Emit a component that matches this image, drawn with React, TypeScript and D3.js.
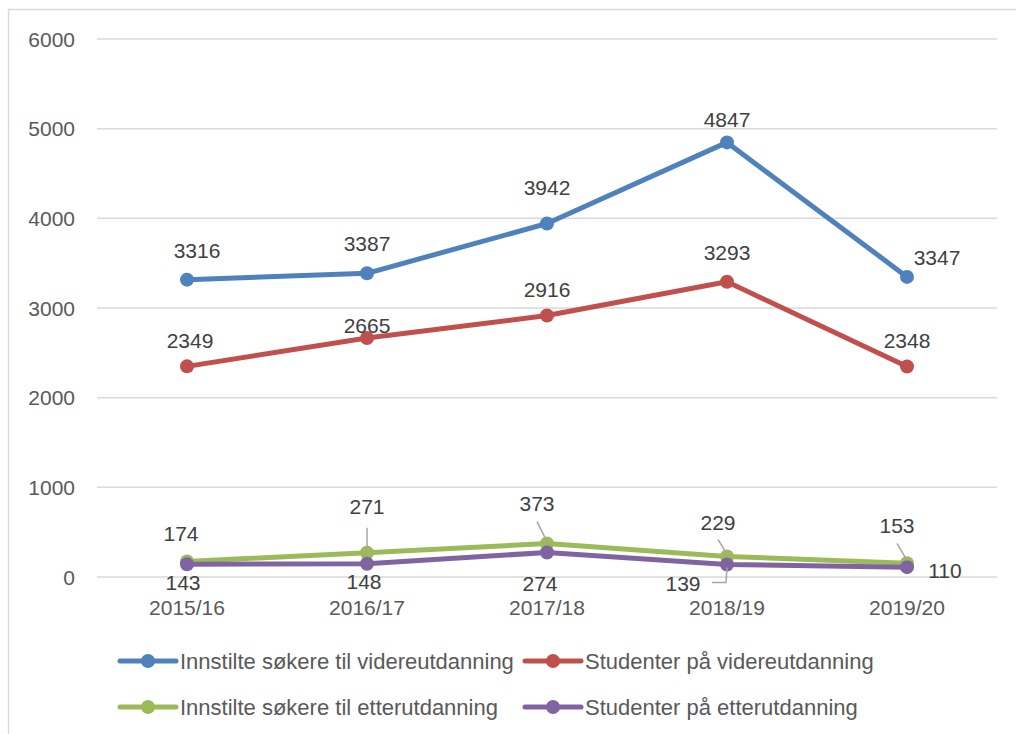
import React, { useEffect, useRef } from 'react';
import * as d3 from 'd3';

const categories = ['2015/16', '2016/17', '2017/18', '2018/19', '2019/20'];
const seriesNames = [
  'Innstilte søkere til videreutdanning',
  'Studenter på videreutdanning',
  'Innstilte søkere til etterutdanning',
  'Studenter på etterutdanning',
];
const innstilteVidere = [3316, 3387, 3942, 4847, 3347];
const studenterVidere = [2349, 2665, 2916, 3293, 2348];
const innstilteEtter = [174, 271, 373, 229, 153];
const studenterEtter = [143, 148, 274, 139, 110];
const yTicks = [0, 1000, 2000, 3000, 4000, 5000, 6000];

const colors = ['#4f81bd', '#c0504d', '#9bbb59', '#8064a2'];

// label placement relative to the point (dx, dy of label centre), plus optional leader line
const labelOffsets = [
  [[10, -29], [0, -30], [0, -36], [0, -23], [30, -19]],
  [[3, -26], [0, -13], [0, -26], [0, -29], [0, -26]],
  [[-6, -28], [0, -46], [-10, -40], [-9, -34], [-10, -38]],
  [[-4, 18], [-3, 18], [-7, 31], [-44, 19], [38, 3]],
];
const leaders = {
  '2-1': [[0, -25], [0, -4]],
  '2-2': [[-10, -22], [0, -2]],
  '2-3': [[-9, -17], [0, -2]],
  '2-4': [[-10, -20], [0, -3]],
  '3-3': [[-15, 18], [-1, 18], [0, 3]],
};

export default function App() {
  const ref = useRef(null);

  useEffect(() => {
    const width = 1016;
    const height = 734;
    const font = '"Liberation Sans", Arial, sans-serif';
    const grey = '#595959';

    const svg = d3.select(ref.current);
    svg.selectAll('*').remove();
    svg.attr('width', width).attr('height', height);

    svg.append('rect')
      .attr('x', 0).attr('y', 0).attr('width', width).attr('height', height)
      .attr('fill', 'white');

    // chart frame
    svg.append('rect')
      .attr('x', 8.5).attr('y', 9.5).attr('width', width + 10).attr('height', height + 10)
      .attr('fill', 'none').attr('stroke', '#d9d9d9').attr('stroke-width', 1.5);

    const x = d3.scaleBand().domain(categories).range([97, 997]);
    const y = d3.scaleLinear().domain([0, 6000]).range([577, 39]);
    const cx = (c) => x(c) + x.bandwidth() / 2;

    // gridlines
    svg.append('g')
      .selectAll('line')
      .data(yTicks)
      .enter()
      .append('line')
      .attr('x1', 97).attr('x2', 997)
      .attr('y1', d => y(d)).attr('y2', d => y(d))
      .attr('stroke', '#d9d9d9').attr('stroke-width', 1.5);

    // y labels
    svg.append('g')
      .selectAll('text')
      .data(yTicks)
      .enter()
      .append('text')
      .attr('x', 75).attr('y', d => y(d) + 7.5)
      .attr('text-anchor', 'end')
      .attr('font-family', font).attr('font-size', 21).attr('fill', grey)
      .text(d => d);

    // x labels
    svg.append('g')
      .selectAll('text')
      .data(categories)
      .enter()
      .append('text')
      .attr('x', d => cx(d)).attr('y', 615)
      .attr('text-anchor', 'middle')
      .attr('font-family', font).attr('font-size', 21).attr('fill', grey)
      .text(d => d);

    const allSeries = [innstilteVidere, studenterVidere, innstilteEtter, studenterEtter];
    const line = d3.line().x(d => d[0]).y(d => d[1]);

    allSeries.forEach((vals, si) => {
      const pts = vals.map((v, i) => [cx(categories[i]), y(v)]);
      svg.append('path')
        .attr('d', line(pts))
        .attr('fill', 'none')
        .attr('stroke', colors[si])
        .attr('stroke-width', 5)
        .attr('stroke-linejoin', 'round')
        .attr('stroke-linecap', 'round');
      svg.append('g')
        .selectAll('circle')
        .data(pts)
        .enter()
        .append('circle')
        .attr('cx', d => d[0]).attr('cy', d => d[1])
        .attr('r', 7)
        .attr('fill', colors[si]);
    });

    // leader lines and data labels
    allSeries.forEach((vals, si) => {
      vals.forEach((v, i) => {
        const px = cx(categories[i]);
        const py = y(v);
        const lead = leaders[`${si}-${i}`];
        if (lead) {
          svg.append('polyline')
            .attr('points', lead.map(p => `${px + p[0]},${py + p[1]}`).join(' '))
            .attr('fill', 'none')
            .attr('stroke', '#a6a6a6')
            .attr('stroke-width', 1.5);
        }
        const [dx, dy] = labelOffsets[si][i];
        svg.append('text')
          .attr('x', px + dx).attr('y', py + dy + 7.5)
          .attr('text-anchor', 'middle')
          .attr('font-family', font).attr('font-size', 21).attr('fill', '#404040')
          .text(v);
      });
    });

    // legend
    const legendPos = [[120, 661], [525, 661], [120, 707], [525, 707]];
    seriesNames.forEach((name, si) => {
      const [lx, ly] = legendPos[si];
      const g = svg.append('g');
      g.append('line')
        .attr('x1', lx).attr('x2', lx + 56)
        .attr('y1', ly).attr('y2', ly)
        .attr('stroke', colors[si]).attr('stroke-width', 5)
        .attr('stroke-linecap', 'round');
      g.append('circle')
        .attr('cx', lx + 28).attr('cy', ly).attr('r', 7)
        .attr('fill', colors[si]);
      g.append('text')
        .attr('x', lx + 60).attr('y', ly + 8)
        .attr('font-family', font).attr('font-size', 22).attr('fill', grey)
        .text(name);
    });
  }, []);

  return <svg ref={ref} style={{ position: 'fixed', left: 0, top: 0 }} />;
}
